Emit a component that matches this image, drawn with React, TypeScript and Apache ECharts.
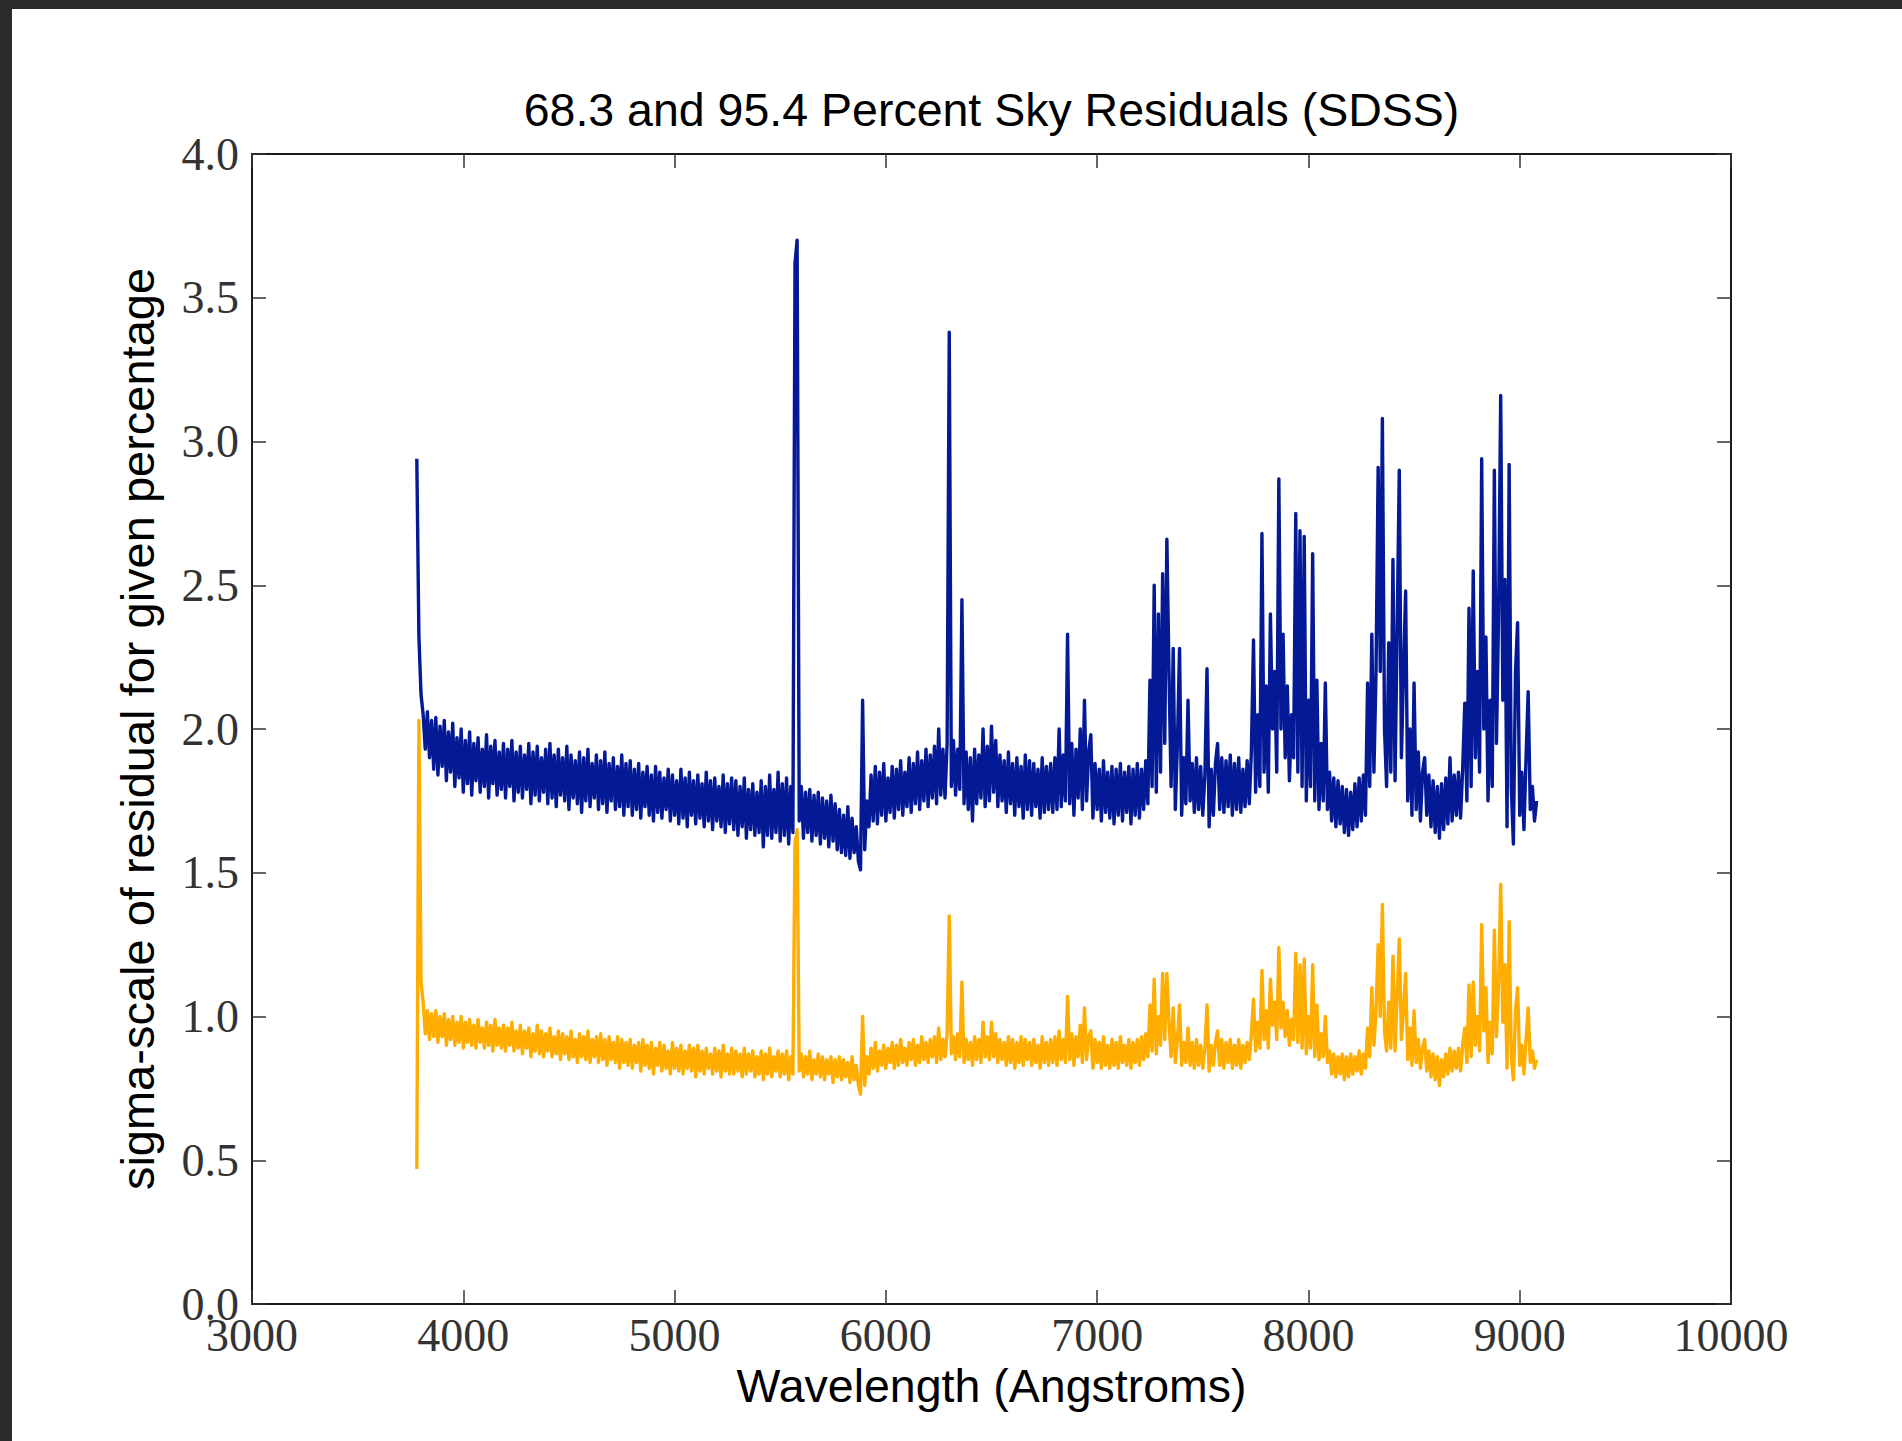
import React, { useEffect, useRef } from "react";
import * as echarts from "echarts";

// Wavelength grid of the sampled spectra (Angstroms)
const WAVELENGTH_START = 3780;
const WAVELENGTH_STEP = 10;

const X_MIN = 3000;
const X_MAX = 10000;
const X_INTERVAL = 1000;
const Y_MIN = 0;
const Y_MAX = 4;
const Y_INTERVAL = 0.5;

const TITLE = "68.3 and 95.4 Percent Sky Residuals (SDSS)";
const X_NAME = "Wavelength (Angstroms)";
const Y_NAME = "sigma-scale of residual for given percentage";

// 95.4 percent residual scale (blue), 10 A steps
const blue3780 = [2.94,2.32,2.12,2.05,1.93,2.06,1.90,2.03,1.86,2.04, 1.84,2.01,1.87,2.03,1.82,1.99,1.85,2.02,1.80,1.97, 1.83,2.00,1.78,1.96,1.81,1.99,1.77,1.95,1.82,1.97, 1.78,1.93,1.80,1.98,1.76,1.94,1.81,1.96,1.77,1.92, 1.79,1.95,1.76,1.93,1.80,1.96,1.75,1.92,1.78,1.94];
const blue4280 = [1.76,1.91,1.79,1.95,1.74,1.92,1.77,1.94,1.75,1.90, 1.78,1.93,1.74,1.95,1.76,1.91,1.73,1.93,1.77,1.90, 1.75,1.94,1.72,1.91,1.76,1.89,1.74,1.92,1.71,1.90, 1.75,1.93,1.73,1.88,1.76,1.91,1.72,1.89,1.74,1.92, 1.71,1.88,1.75,1.90,1.72,1.87,1.73,1.91,1.70,1.88];
const blue4780 = [1.73,1.89,1.70,1.86,1.72,1.88,1.69,1.85,1.73,1.87, 1.70,1.84,1.68,1.87,1.71,1.85,1.69,1.83,1.72,1.86, 1.68,1.84,1.70,1.82,1.67,1.86,1.69,1.83,1.66,1.85, 1.70,1.82,1.67,1.84,1.69,1.81,1.66,1.85,1.68,1.82, 1.65,1.83,1.68,1.80,1.66,1.84,1.64,1.81,1.67,1.83];
const blue5280 = [1.65,1.82,1.63,1.80,1.66,1.83,1.62,1.79,1.65,1.81, 1.63,1.78,1.64,1.82,1.59,1.80,1.63,1.84,1.62,1.79, 1.64,1.85,1.61,1.81,1.63,1.83,1.60,1.80,1.64,3.62, 3.70,1.68,1.80,1.62,1.78,1.64,1.79,1.61,1.77,1.63, 1.78,1.60,1.76,1.62,1.75,1.59,1.77,1.61,1.74,1.58];
const blue5780 = [1.72,1.57,1.70,1.56,1.73,1.55,1.69,1.57,1.66,1.54, 1.51,2.10,1.58,1.75,1.66,1.84,1.68,1.87,1.67,1.85, 1.70,1.88,1.68,1.83,1.71,1.87,1.69,1.86,1.72,1.89, 1.70,1.85,1.73,1.90,1.71,1.88,1.74,1.92,1.72,1.89, 1.75,1.93,1.73,1.91,1.76,1.94,1.74,2.00,1.77,1.93];
const blue6280 = [1.76,1.95,3.38,1.80,1.96,1.77,1.93,1.79,2.45,1.74, 1.92,1.72,1.90,1.68,1.93,1.74,1.91,1.76,2.00,1.73, 1.94,1.75,2.01,1.78,1.96,1.73,1.91,1.75,1.89,1.71, 1.92,1.74,1.88,1.70,1.90,1.73,1.87,1.69,1.91,1.72, 1.89,1.70,1.88,1.73,1.86,1.69,1.90,1.71,1.87,1.72];
const blue6780 = [1.88,1.71,1.90,1.72,2.00,1.73,1.91,1.75,2.33,1.74, 1.95,1.70,1.93,1.76,2.00,1.72,2.10,1.75,1.92,1.98, 1.69,1.88,1.72,1.86,1.68,1.89,1.71,1.85,1.69,1.87, 1.67,1.86,1.70,1.88,1.68,1.85,1.71,1.87,1.67,1.86, 1.70,1.88,1.69,1.86,1.72,1.89,1.74,2.17,1.80,2.50];
const blue7280 = [1.78,2.40,1.85,2.54,1.95,2.66,2.20,1.80,2.28,1.72, 1.95,2.28,1.70,1.90,1.74,2.10,1.75,1.88,1.71,1.90, 1.72,1.87,1.70,1.84,2.21,1.66,1.86,1.70,1.88,1.95, 1.72,1.90,1.71,1.89,1.73,1.91,1.70,1.88,1.72,1.90, 1.71,1.86,1.73,1.89,1.74,1.92,2.31,1.78,2.05,1.80];
const blue7780 = [2.68,1.85,2.15,1.78,2.40,2.00,2.20,1.85,2.87,2.00, 2.33,1.90,2.15,1.82,2.05,1.90,2.75,1.85,2.69,1.80, 2.67,1.75,2.10,1.80,2.61,1.75,2.17,1.72,1.95,1.75, 2.16,1.72,1.85,1.68,1.83,1.66,1.82,1.67,1.80,1.64, 1.79,1.63,1.78,1.65,1.81,1.66,1.83,1.68,1.84,1.70];
const blue8280 = [2.16,1.80,2.33,1.85,2.20,2.91,2.20,3.08,2.00,1.80, 2.30,1.85,2.59,1.82,2.35,2.90,1.90,2.20,2.48,1.75, 2.00,1.70,2.16,1.72,1.92,1.68,1.85,1.90,1.70,1.84, 1.66,1.82,1.64,1.80,1.62,1.81,1.65,1.83,1.67,1.90, 1.68,1.84,1.70,1.85,1.69,1.86,2.09,1.75,2.42,1.80];
const blue8780 = [2.55,1.90,2.20,1.85,2.94,2.00,2.32,1.75,2.10,1.80, 2.90,1.95,2.40,3.16,2.10,2.52,1.66,2.92,1.80,1.60, 2.20,2.37,1.70,1.85,1.65,1.90,2.13,1.72,1.80,1.68, 1.75];

// 68.3 percent residual scale (orange), same wavelength grid
const orange3780 = [0.47,2.03,1.12,1.05,0.94,1.02,0.92,1.01,0.93,1.02, 0.91,1.00,0.93,1.01,0.90,0.99,0.92,1.00,0.90,0.98, 0.91,1.00,0.89,0.98,0.91,0.99,0.90,0.97,0.89,0.99, 0.91,0.96,0.89,0.98,0.90,0.97,0.88,0.99,0.90,0.96, 0.89,0.97,0.88,0.96,0.90,0.98,0.88,0.95,0.89,0.97];
const orange4280 = [0.87,0.95,0.89,0.96,0.86,0.94,0.88,0.97,0.87,0.95, 0.86,0.94,0.88,0.96,0.86,0.93,0.87,0.95,0.85,0.94, 0.87,0.93,0.85,0.95,0.86,0.92,0.84,0.94,0.86,0.93, 0.85,0.95,0.84,0.92,0.86,0.93,0.84,0.94,0.85,0.92, 0.83,0.93,0.85,0.91,0.84,0.93,0.82,0.92,0.84,0.91];
const orange4780 = [0.83,0.92,0.82,0.90,0.84,0.91,0.81,0.92,0.83,0.90, 0.82,0.91,0.80,0.89,0.83,0.91,0.81,0.90,0.82,0.88, 0.80,0.91,0.82,0.89,0.81,0.90,0.80,0.88,0.82,0.90, 0.81,0.89,0.79,0.90,0.81,0.88,0.80,0.89,0.82,0.87, 0.80,0.89,0.81,0.88,0.79,0.90,0.81,0.87,0.80,0.89];
const orange5280 = [0.80,0.88,0.81,0.87,0.79,0.89,0.80,0.87,0.81,0.88, 0.79,0.86,0.80,0.88,0.78,0.87,0.80,0.89,0.79,0.86, 0.81,0.88,0.79,0.87,0.80,0.88,0.78,0.86,0.80,1.60, 1.65,0.81,0.87,0.79,0.86,0.80,0.88,0.78,0.85,0.80, 0.87,0.79,0.86,0.78,0.85,0.80,0.86,0.77,0.85,0.79];
const orange5780 = [0.86,0.78,0.85,0.79,0.84,0.77,0.86,0.78,0.83,0.76, 0.73,1.00,0.76,0.86,0.80,0.89,0.82,0.91,0.81,0.88, 0.83,0.90,0.82,0.89,0.84,0.91,0.82,0.90,0.83,0.92, 0.84,0.89,0.83,0.91,0.85,0.92,0.83,0.90,0.84,0.93, 0.85,0.91,0.84,0.92,0.86,0.93,0.84,0.96,0.85,0.92];
const orange6280 = [0.86,0.94,1.35,0.87,0.93,0.85,0.94,0.86,1.12,0.84, 0.92,0.85,0.91,0.83,0.93,0.85,0.92,0.84,0.98,0.86, 0.93,0.85,0.98,0.86,0.94,0.84,0.92,0.85,0.91,0.83, 0.93,0.84,0.92,0.82,0.91,0.84,0.93,0.83,0.92,0.85, 0.91,0.83,0.92,0.84,0.90,0.82,0.93,0.84,0.91,0.83];
const orange6780 = [0.92,0.84,0.93,0.83,0.95,0.85,0.92,0.84,1.07,0.85, 0.94,0.83,0.93,0.86,0.97,0.84,1.03,0.85,0.93,0.95, 0.82,0.92,0.84,0.91,0.82,0.93,0.83,0.90,0.82,0.92, 0.83,0.91,0.82,0.93,0.84,0.90,0.83,0.92,0.82,0.91, 0.84,0.92,0.83,0.93,0.85,0.94,0.86,1.04,0.88,1.13];
const orange7280 = [0.87,1.00,0.90,1.15,0.92,1.15,0.98,0.86,1.03,0.84, 0.92,1.04,0.83,0.91,0.84,0.96,0.83,0.91,0.82,0.92, 0.83,0.90,0.82,0.89,1.04,0.81,0.90,0.83,0.91,0.95, 0.83,0.92,0.82,0.91,0.84,0.92,0.82,0.90,0.83,0.92, 0.82,0.90,0.84,0.91,0.85,0.94,1.06,0.88,0.98,0.89];
const orange7780 = [1.16,0.92,1.02,0.89,1.13,0.97,1.05,0.92,1.24,0.96, 1.05,0.93,1.02,0.90,0.99,0.92,1.22,0.91,1.18,0.89, 1.20,0.87,1.00,0.89,1.18,0.86,1.04,0.85,0.94,0.86, 1.00,0.84,0.88,0.80,0.87,0.79,0.86,0.80,0.87,0.78, 0.86,0.79,0.87,0.80,0.86,0.81,0.88,0.80,0.87,0.82];
const orange8280 = [0.96,0.86,1.10,0.90,1.02,1.25,1.00,1.39,0.95,0.88, 1.05,0.89,1.21,0.88,1.08,1.27,0.92,1.02,1.15,0.85, 0.96,0.83,1.02,0.84,0.92,0.82,0.89,0.92,0.81,0.88, 0.79,0.87,0.78,0.86,0.76,0.85,0.79,0.87,0.80,0.89, 0.81,0.88,0.82,0.89,0.81,0.90,0.96,0.84,1.11,0.86];
const orange8780 = [1.12,0.90,1.00,0.88,1.32,0.95,1.10,0.84,0.98,0.87, 1.30,0.93,1.12,1.46,0.98,1.18,0.82,1.33,0.86,0.78, 1.02,1.10,0.83,0.90,0.80,0.92,1.03,0.84,0.88,0.82, 0.85];

const blueValues = [
  ...blue3780, ...blue4280, ...blue4780, ...blue5280, ...blue5780, ...blue6280,
  ...blue6780, ...blue7280, ...blue7780, ...blue8280, ...blue8780,
];
const orangeValues = [
  ...orange3780, ...orange4280, ...orange4780, ...orange5280, ...orange5780, ...orange6280,
  ...orange6780, ...orange7280, ...orange7780, ...orange8280, ...orange8780,
];

const BLUE = "#031995";
const ORANGE = "#ffad00";

function toPoints(values: number[]): [number, number][] {
  return values.map((v, i) => [WAVELENGTH_START + i * WAVELENGTH_STEP, v]);
}

const SANS = "Liberation Sans, Arial, Helvetica, sans-serif";
const SERIF = "Liberation Serif, Times New Roman, serif";
const AXIS_COLOR = "#1a1a1a";
const TICK_STYLE = { color: "#333", width: 1.5 };

function xAxisDef(position: "bottom" | "top", withLabels: boolean) {
  return {
    type: "value",
    position,
    min: X_MIN,
    max: X_MAX,
    interval: X_INTERVAL,
    name: withLabels ? X_NAME : "",
    nameLocation: "middle",
    nameGap: 57,
    nameTextStyle: { fontFamily: SANS, fontSize: 46.5, color: "#000" },
    axisLine: { show: true, onZero: false, lineStyle: { color: AXIS_COLOR, width: 2 } },
    axisTick: { show: true, inside: true, length: 14, lineStyle: TICK_STYLE },
    axisLabel: {
      show: withLabels,
      margin: 8,
      fontFamily: SERIF,
      fontSize: 46,
      color: "#333",
      formatter: (v: number) => String(v),
    },
    splitLine: { show: false },
  };
}

function yAxisDef(position: "left" | "right", withLabels: boolean) {
  return {
    type: "value",
    position,
    min: Y_MIN,
    max: Y_MAX,
    interval: Y_INTERVAL,
    name: withLabels ? Y_NAME : "",
    nameLocation: "middle",
    nameGap: 91,
    nameTextStyle: { fontFamily: SANS, fontSize: 47, color: "#000" },
    axisLine: { show: true, onZero: false, lineStyle: { color: AXIS_COLOR, width: 2 } },
    axisTick: { show: true, inside: true, length: 14, lineStyle: TICK_STYLE },
    axisLabel: {
      show: withLabels,
      margin: 13,
      fontFamily: SERIF,
      fontSize: 46,
      color: "#333",
      formatter: (v: number) => v.toFixed(1),
    },
    splitLine: { show: false },
  };
}

export default function App() {
  const ref = useRef<HTMLDivElement>(null);

  useEffect(() => {
    if (!ref.current) return;
    const chart = echarts.init(ref.current, null, { renderer: "svg" });
    chart.setOption({
      animation: false,
      backgroundColor: "#ffffff",
      title: {
        text: TITLE,
        left: 991.5,
        top: 86,
        textAlign: "center",
        padding: 0,
        textStyle: { fontFamily: SANS, fontSize: 46.5, fontWeight: "normal", color: "#000" },
      },
      grid: { left: 252, top: 154, width: 1479, height: 1150, containLabel: false },
      xAxis: [xAxisDef("bottom", true), xAxisDef("top", false)],
      yAxis: [yAxisDef("left", true), yAxisDef("right", false)],
      series: [
        {
          name: "95.4 percent",
          type: "line",
          xAxisIndex: 0,
          yAxisIndex: 0,
          data: toPoints(blueValues),
          showSymbol: false,
          symbol: "none",
          lineStyle: { color: BLUE, width: 3.4, join: "round" },
          itemStyle: { color: BLUE },
          z: 2,
        },
        {
          name: "68.3 percent",
          type: "line",
          xAxisIndex: 0,
          yAxisIndex: 0,
          data: toPoints(orangeValues),
          showSymbol: false,
          symbol: "none",
          lineStyle: { color: ORANGE, width: 3.4, join: "round" },
          itemStyle: { color: ORANGE },
          z: 3,
        },
      ],
    });
    return () => chart.dispose();
  }, []);

  return (
    <div
      style={{
        position: "fixed",
        left: 0,
        top: 0,
        width: 1902,
        height: 1441,
        background: "#ffffff",
        overflow: "hidden",
      }}
    >
      <div ref={ref} style={{ position: "absolute", left: 0, top: 0, width: 1902, height: 1441 }} />
      <div style={{ position: "absolute", left: 0, top: 0, width: 1902, height: 9, background: "#2b2b2b" }} />
      <div style={{ position: "absolute", left: 0, top: 0, width: 12, height: 1441, background: "#2b2b2b" }} />
    </div>
  );
}
